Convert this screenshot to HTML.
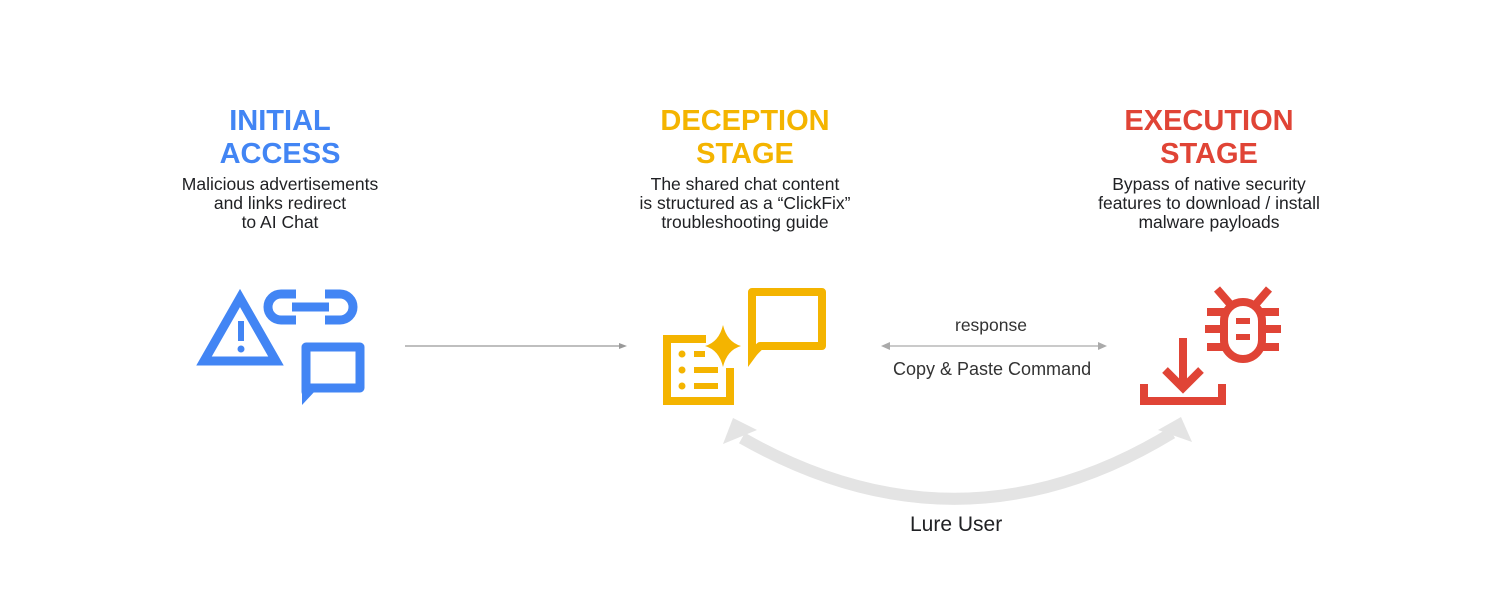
<!DOCTYPE html>
<html><head><meta charset="utf-8"><style>
html,body{margin:0;padding:0;background:#fff;}
body{width:1500px;height:599px;position:relative;overflow:hidden;font-family:"Liberation Sans",Arial,sans-serif;}
.t{position:absolute;text-align:center;font-weight:bold;font-size:29px;line-height:33px;}
.d{position:absolute;text-align:center;font-size:17.5px;line-height:19px;color:#202124;}
.l{position:absolute;font-size:16px;color:#333;}
</style></head><body>
<div class="t" style="left:130px;width:300px;top:105px;color:#4285f4">INITIAL<br>ACCESS</div>
<div class="d" style="left:130px;width:300px;top:175px">Malicious advertisements<br>and links redirect<br>to AI Chat</div>
<div class="t" style="left:595px;width:300px;top:105px;color:#f4b400">DECEPTION<br>STAGE</div>
<div class="d" style="left:595px;width:300px;top:175px">The shared chat content<br>is structured as a “ClickFix”<br>troubleshooting guide</div>
<div class="t" style="left:1059px;width:300px;top:105px;color:#e04436">EXECUTION<br>STAGE</div>
<div class="d" style="left:1059px;width:300px;top:175px">Bypass of native security<br>features to download / install<br>malware payloads</div>
<div class="l" style="left:955px;top:315px;font-size:17.5px">response</div>
<div class="l" style="left:893px;top:359px;font-size:18px">Copy &amp; Paste Command</div>
<div class="l" style="left:910px;top:513px;font-size:21px;color:#202124">Lure User</div>
<svg width="1500" height="599" style="position:absolute;left:0;top:0">
<g fill="none" stroke="#4285f4" stroke-width="9">
<polygon points="240,298 204,361 276,361"/>
<path d="M296,294 H281 a13,13 0 0 0 0,26 H296"/>
<path d="M325,294 H340 a13,13 0 0 1 0,26 H325"/>
<line x1="292" y1="307" x2="329" y2="307"/>
<path d="M306,347 H360 V388 H310 L306,392 Z" stroke-linejoin="round"/>
</g>
<polygon points="302,385 316,390 302,405" fill="#4285f4"/>
<rect x="238" y="321" width="6" height="20" fill="#4285f4"/>
<circle cx="241" cy="349" r="3.5" fill="#4285f4"/>
<g fill="none" stroke="#f4b400" stroke-width="8">
<path d="M706,339 H667 V401 H730 V368"/>
<path d="M752,292 H822 V346 H760 L752,354 Z" stroke-linejoin="round"/>
</g>
<polygon points="748,345 762,348 748,367" fill="#f4b400"/>
<path d="M723,325 Q727,342 741,346 Q727,350 723,367 Q719,350 705,346 Q719,342 723,325Z" fill="#f4b400"/>
<g fill="#f4b400"><circle cx="682" cy="354" r="3.5"/><circle cx="682" cy="370" r="3.5"/><circle cx="682" cy="386" r="3.5"/>
<rect x="694" y="351" width="11" height="6"/><rect x="694" y="367" width="24" height="6"/><rect x="694" y="383" width="24" height="6"/></g>
<g fill="none" stroke="#e04436" stroke-width="8">
<rect x="1224" y="302" width="38" height="57" rx="19"/>
<path d="M1207,312 H1224 M1205,329 H1224 M1207,347 H1224 M1262,312 H1279 M1262,329 H1281 M1262,347 H1279"/>
<path d="M1230,304 L1217,289 M1256,304 L1269,289"/>
<path d="M1144,384 V401 H1222 V384"/>
<path d="M1183,338 V388 M1165,370 L1183,388 L1201,370"/>
</g>
<g fill="#e04436"><rect x="1236" y="318" width="14" height="6"/><rect x="1236" y="334" width="14" height="6"/></g>
<line x1="405" y1="346" x2="620" y2="346" stroke="#999" stroke-width="1.3"/>
<polygon points="627,346 619,343 619,349" fill="#999"/>
<line x1="888" y1="346" x2="1100" y2="346" stroke="#aaa" stroke-width="1.3"/>
<polygon points="881,346 890,342 890,350" fill="#aaa"/>
<polygon points="1107,346 1098,342 1098,350" fill="#aaa"/>
<path d="M742,438 Q960,562 1172,433" fill="none" stroke="#e4e4e4" stroke-width="12"/>
<polygon points="733,418 757,430 723,444" fill="#e4e4e4"/>
<polygon points="1181,417 1158,430 1192,442" fill="#e4e4e4"/>
</svg>
</body></html>
